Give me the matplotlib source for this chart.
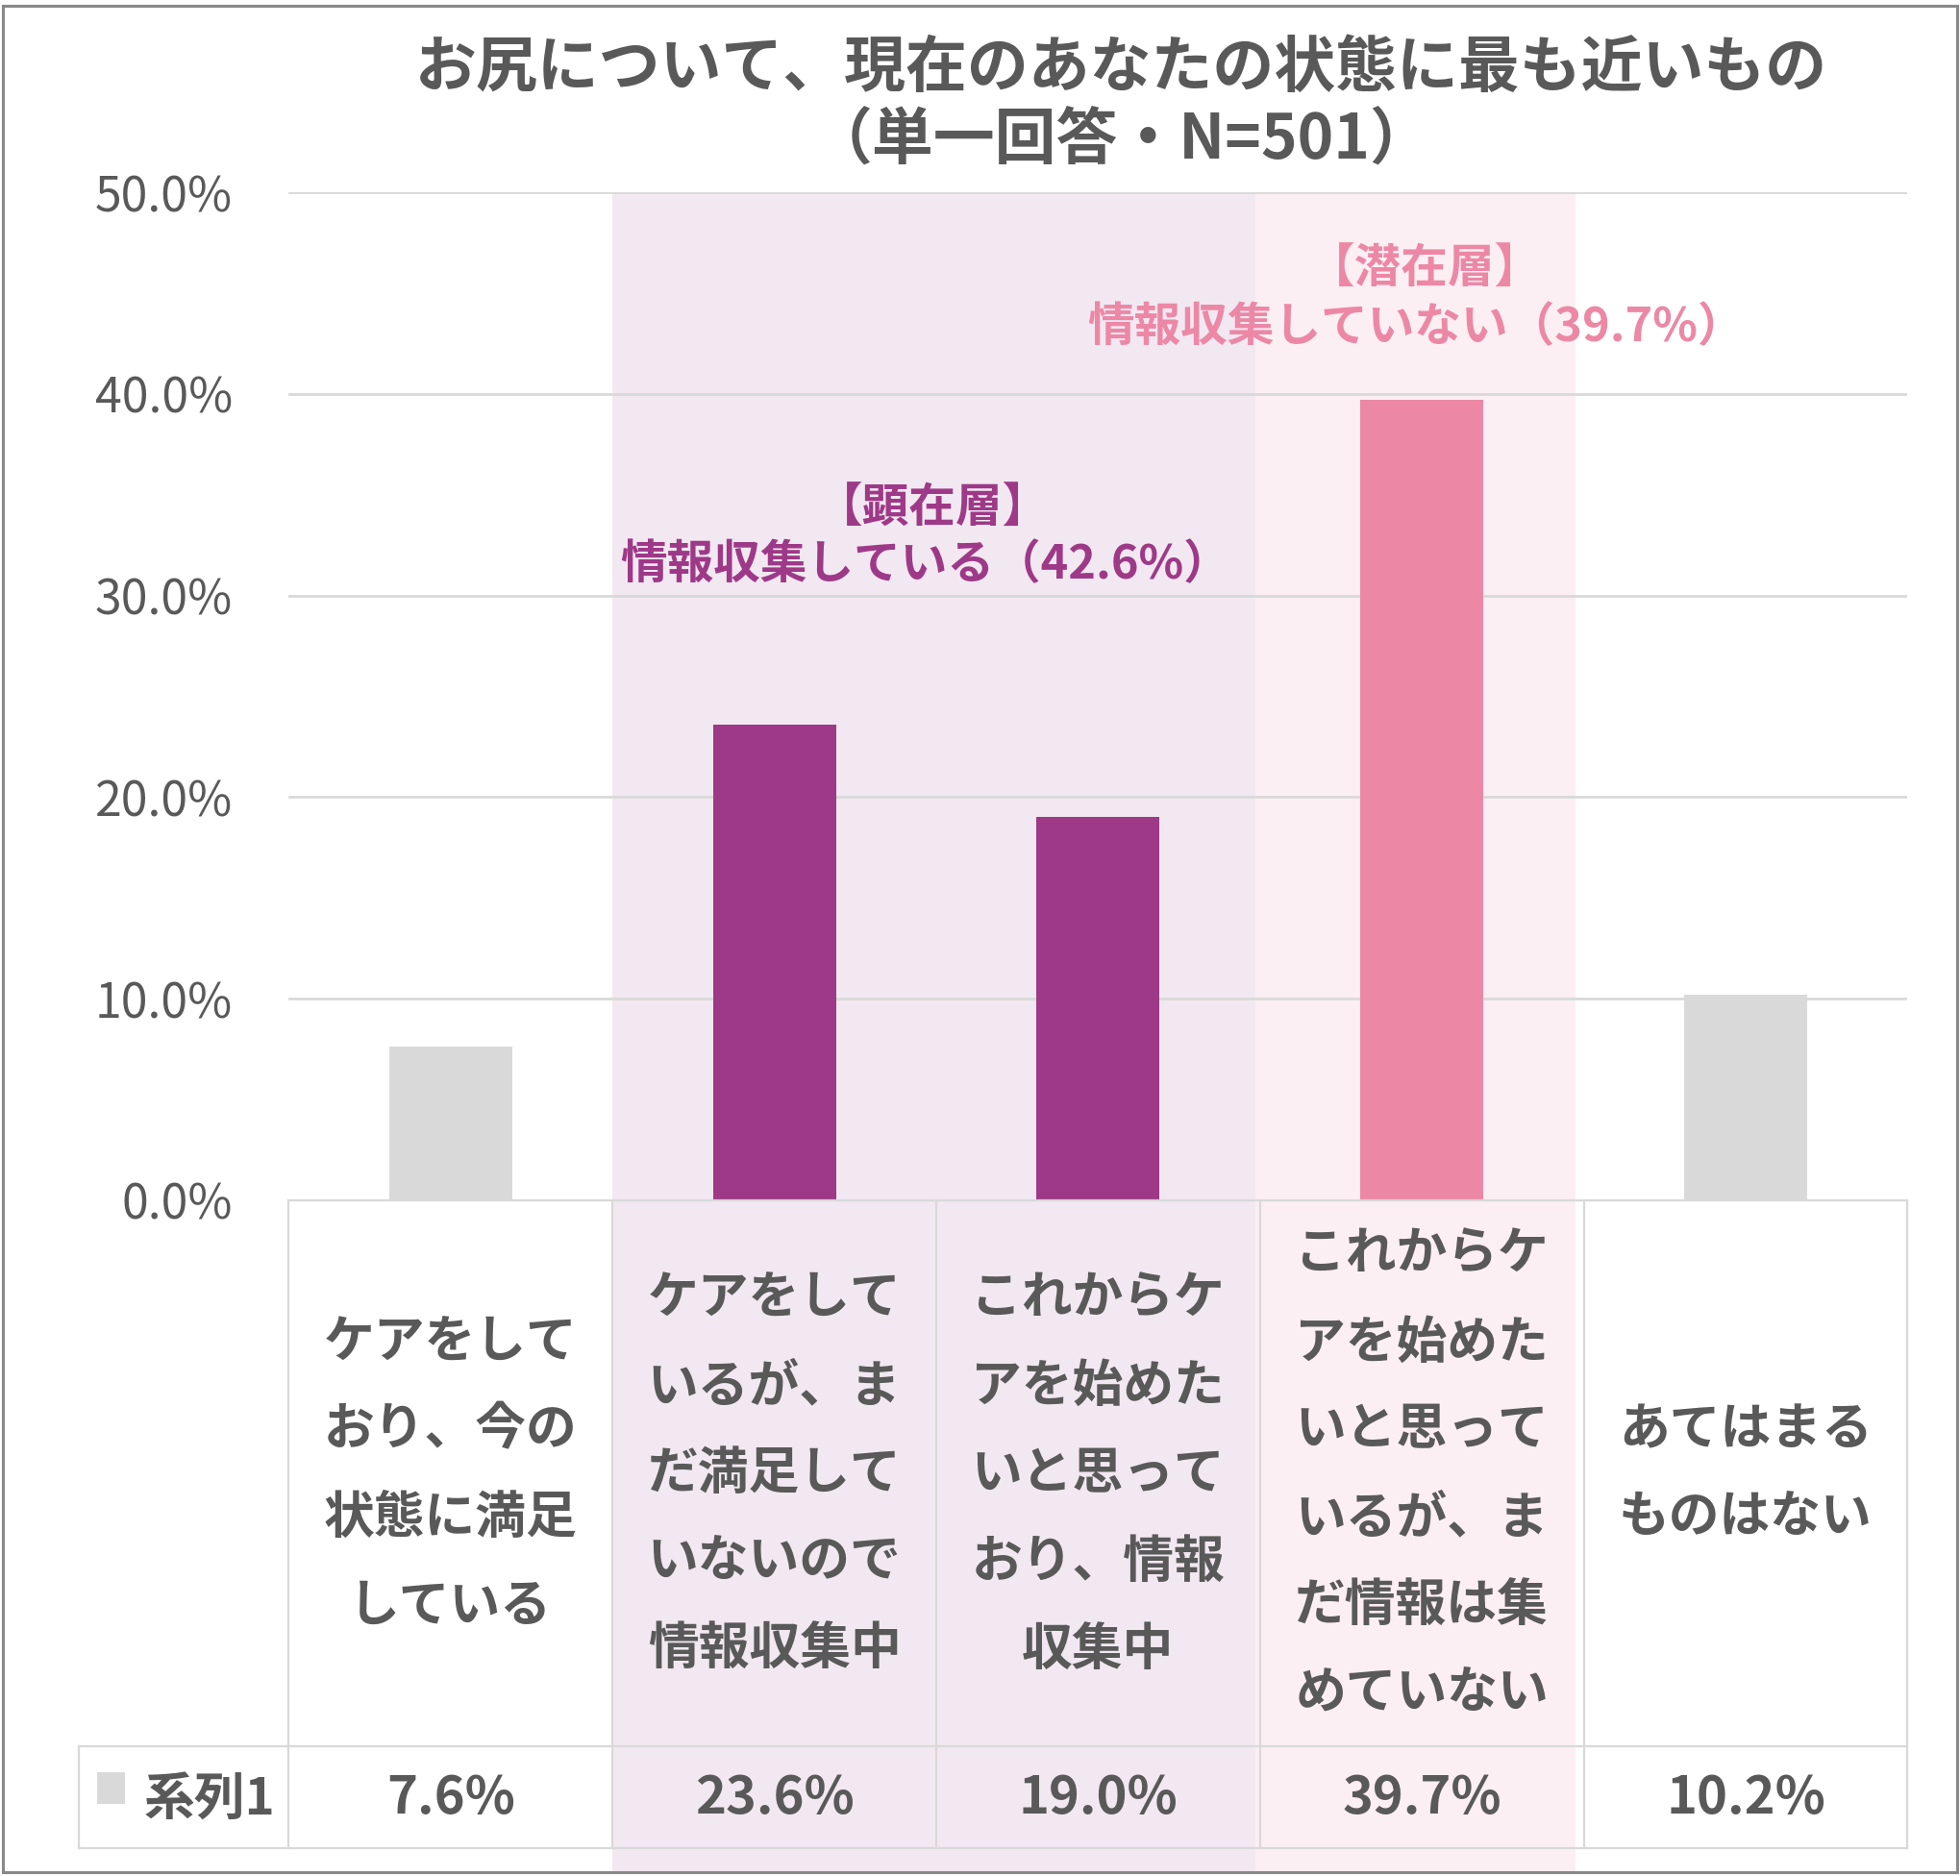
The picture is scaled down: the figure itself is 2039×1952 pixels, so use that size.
import matplotlib
matplotlib.use('Agg')
import matplotlib.pyplot as plt
from matplotlib.patches import Rectangle
from matplotlib.transforms import blended_transform_factory

plt.rcParams['font.family'] = ['Noto Sans CJK JP', 'DejaVu Sans']

TITLE = ['お尻について、現在のあなたの状態に最も近いもの', '（単一回答・N=501）']
CATEGORIES = [
    'ケアをして\nおり、今の\n状態に満足\nしている',
    'ケアをして\nいるが、ま\nだ満足して\nいないので\n情報収集中',
    'これからケ\nアを始めた\nいと思って\nおり、情報\n収集中',
    'これからケ\nアを始めた\nいと思って\nいるが、ま\nだ情報は集\nめていない',
    'あてはまる\nものはない',
]
VALUES = [7.6, 23.6, 19.0, 39.7, 10.2]
SERIES_NAME = '系列1'
Y_TICKS = [0, 10, 20, 30, 40, 50]

GRAY = '#D9D9D9'
PURPLE = '#9E3988'
PINK = '#EC88A6'
TEXT = '#595959'
BAR_COLORS = [GRAY, PURPLE, PURPLE, PINK, GRAY]

fig = plt.figure(figsize=(20.39, 19.52), dpi=100)
ax = fig.add_axes([0.1473, 0.3602, 0.8259, 0.5373])
ax.set_xlim(-0.5, len(VALUES) - 0.5)
ax.set_ylim(0, 50)
bt = blended_transform_factory(ax.transData, ax.transAxes)

# background bands for the two groups
ax.add_patch(Rectangle((0.5, -0.668), 1.985, 1.668, transform=bt, color='#F2E8F1',
                       zorder=0, clip_on=False, lw=0))
ax.add_patch(Rectangle((2.485, -0.668), 0.99, 1.668, transform=bt, color='#FCEFF4',
                       zorder=0, clip_on=False, lw=0))

for t in Y_TICKS[1:]:
    ax.axhline(t, color=GRAY, lw=2, zorder=1)
ax.bar(range(len(VALUES)), VALUES, width=0.38, color=BAR_COLORS, zorder=2)

ax.set_yticks(Y_TICKS)
ax.set_yticklabels([f'{t:.1f}%' for t in Y_TICKS], fontsize=36, color=TEXT)
ax.tick_params(axis='y', length=0, pad=42)
ax.set_xticks([])
for s in ax.spines.values():
    s.set_visible(False)
ax.patch.set_alpha(0)

# data table under the chart
lk = dict(color=GRAY, lw=1.6, transform=ax.transAxes, clip_on=False, zorder=3)
ax.plot([0, 1], [0, 0], **lk)
ax.plot([-0.1297, 1], [-0.5415, -0.5415], **lk)
ax.plot([-0.1297, 1], [-0.6431, -0.6431], **lk)
ax.plot([-0.1297, -0.1297], [-0.5415, -0.6431], **lk)
for k in range(len(VALUES) + 1):
    ax.plot([k / len(VALUES)] * 2, [0, -0.6431], **lk)

line_gap = 0.0871
for i, (cat, v) in enumerate(zip(CATEGORIES, VALUES)):
    lines = cat.split('\n')
    n = len(lines)
    for k, ln in enumerate(lines):
        y = -0.2717 - (k - (n - 1) / 2) * line_gap
        ax.text(i, y, ln, transform=bt, ha='center', va='center', fontsize=38,
                fontweight='bold', color=TEXT)
    ax.text(i, -0.594, f'{v:.1f}%', transform=bt, ha='center', va='center',
            fontsize=39, fontweight='bold', color=TEXT)

ax.add_patch(Rectangle((-0.1181, -0.5985), 0.0169, 0.031, transform=ax.transAxes,
                       color=GRAY, clip_on=False, lw=0))
ax.text(-0.0896, -0.594, SERIES_NAME, transform=ax.transAxes, ha='left', va='center',
        fontsize=38, fontweight='bold', color=TEXT)

# group annotations
ax.text(1.49, 34.3, '【顕在層】', ha='center', va='center', fontsize=35,
        fontweight='bold', color=PURPLE, zorder=4)
ax.text(1.465, 31.5, '情報収集している（42.6%）', ha='center', va='center', fontsize=35,
        fontweight='bold', color=PURPLE, zorder=4)
ax.text(3.01, 46.2, '【潜在層】', ha='center', va='center', fontsize=35,
        fontweight='bold', color=PINK, zorder=4)
ax.text(2.98, 43.3, '情報収集していない（39.7%）', ha='center', va='center', fontsize=35,
        fontweight='bold', color=PINK, zorder=4)

fig.text(0.572, 0.9634, TITLE[0], ha='center', va='center', fontsize=46,
         fontweight='bold', color=TEXT)
fig.text(0.572, 0.9254, TITLE[1], ha='center', va='center', fontsize=46,
         fontweight='bold', color=TEXT)

fig.add_artist(Rectangle((0.0015, 0.002), 0.997, 0.995, transform=fig.transFigure,
                         fill=False, edgecolor='#898989', lw=2.2))

fig.savefig('out.png', dpi=100)
